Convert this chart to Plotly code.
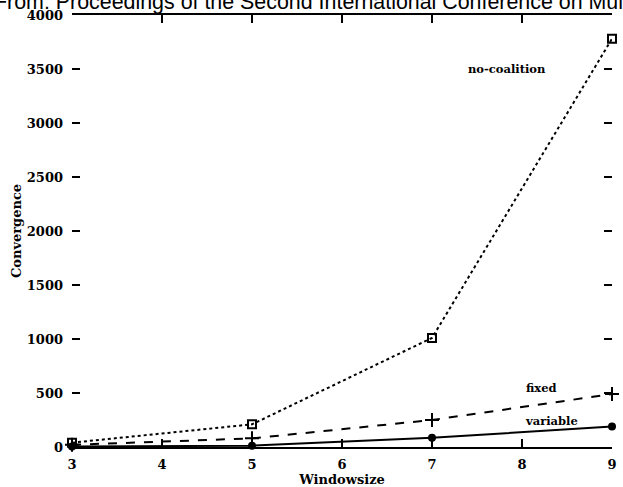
import plotly.graph_objects as go

windowsize = [3, 5, 7, 9]
no_coalition = [40, 210, 1010, 3780]
fixed = [20, 80, 250, 490]
variable = [5, 12, 85, 190]

x_ticks = [3, 4, 5, 6, 7, 8, 9]
y_ticks = [0, 500, 1000, 1500, 2000, 2500, 3000, 3500, 4000]

serif = "DejaVu Serif"

fig = go.Figure()
fig.add_trace(go.Scatter(x=windowsize, y=no_coalition, mode="lines+markers",
                         line=dict(color="black", width=2, dash="dot"),
                         marker=dict(symbol="square-open", size=8, color="black", line=dict(width=2)),
                         name="no-coalition", showlegend=False, cliponaxis=False))
fig.add_trace(go.Scatter(x=windowsize, y=fixed, mode="lines+markers",
                         line=dict(color="black", width=2, dash="dash"),
                         marker=dict(symbol="cross-thin-open", size=10, color="black", line=dict(width=2)),
                         name="fixed", showlegend=False, cliponaxis=False))
fig.add_trace(go.Scatter(x=windowsize, y=variable, mode="lines+markers",
                         line=dict(color="black", width=2),
                         marker=dict(symbol="circle", size=8, color="black"),
                         name="variable", showlegend=False, cliponaxis=False))

labels = [("no-coalition", 7.83, 3500), ("fixed", 8.22, 543), ("variable", 8.33, 239)]
for txt, lx, ly in labels:
    fig.add_annotation(x=lx, y=ly, text=txt, showarrow=False,
                       font=dict(family=serif, size=11.5, color="black", weight="bold"))

fig.add_annotation(xref="paper", yref="paper", x=-0.1486, y=1.0307,
                   xanchor="left", yanchor="middle", showarrow=False,
                   text="From: Proceedings of the Second International Conference on Multiagent Systems",
                   font=dict(family="Liberation Sans", size=21.4, color="black"))

fig.update_xaxes(range=[3, 9], tickvals=x_ticks, ticktext=[str(v) for v in x_ticks],
                 showline=True, linecolor="black", linewidth=2, mirror="ticks",
                 ticks="inside", ticklen=8, tickwidth=2, tickcolor="black",
                 showgrid=False, zeroline=False, ticklabelstandoff=4,
                 tickfont=dict(family=serif, size=13, color="black", weight="bold"),
                 title=dict(text="Windowsize", standoff=0,
                            font=dict(family=serif, size=13, color="black", weight="bold")))
fig.update_yaxes(range=[0, 4000], tickvals=y_ticks, ticktext=[str(v) for v in y_ticks],
                 showline=False, mirror="ticks",
                 ticks="inside", ticklen=8, tickwidth=2, tickcolor="black",
                 showgrid=False, zeroline=False, ticklabelstandoff=8,
                 tickfont=dict(family=serif, size=13, color="black", weight="bold"),
                 title=dict(text="Convergence", standoff=2,
                            font=dict(family=serif, size=13, color="black", weight="bold")))

fig.update_layout(width=623, height=487, margin=dict(l=72, r=6, t=15, b=36),
                  plot_bgcolor="white", paper_bgcolor="white")

fig.write_html("out.html")
